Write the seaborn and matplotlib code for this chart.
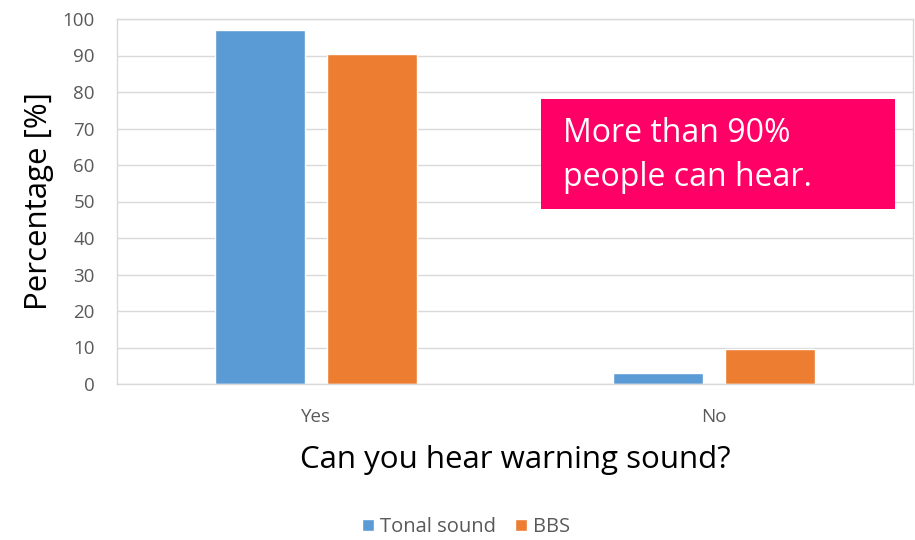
import matplotlib
matplotlib.use("Agg")
import matplotlib.pyplot as plt
import seaborn as sns
import pandas as pd
from matplotlib.patches import Rectangle

categories = ["Yes", "No"]
series = ["Tonal sound", "BBS"]
tonal_values = [97, 3]
bbs_values = [90.5, 9.5]
y_ticks = [0, 10, 20, 30, 40, 50, 60, 70, 80, 90, 100]

df = pd.DataFrame({
    "answer": categories * 2,
    "series": [series[0]] * 2 + [series[1]] * 2,
    "value": tonal_values + bbs_values,
})

sns.set_theme(style="white")
plt.rcParams['font.family'] = ['Open Sans', 'DejaVu Sans']

fig = plt.figure(figsize=(9.15, 5.4), dpi=100)
ax = fig.add_axes([117/915, 1-384/540, (913-117)/915, (384-19)/540])

palette = {"Tonal sound": "#5B9BD5", "BBS": "#ED7D31"}
sns.barplot(data=df, x="answer", y="value", hue="series", order=categories,
            hue_order=series, palette=palette, width=0.566, gap=0.2,
            saturation=1, ax=ax, legend=True)

ax.set_ylim(0, 100)
ax.set_xlim(-0.5, 1.5)
ax.set_yticks(y_ticks)
ax.yaxis.grid(True, color="#D9D9D9", linewidth=1)
ax.set_axisbelow(True)
for s in ax.spines.values():
    s.set_color("#D9D9D9")
    s.set_linewidth(1)
ax.tick_params(axis="both", length=0, colors="#595959", labelsize=13.5)
ax.tick_params(axis="y", pad=16)
ax.tick_params(axis="x", pad=17)

ax.set_ylabel("Percentage [%]", fontsize=22.5, color="black", labelpad=6)
ax.set_xlabel("Can you hear warning sound?", fontsize=22.5, color="black", labelpad=14)

leg = ax.legend(loc="center", bbox_to_anchor=(466/915, 1-527/540),
                bbox_transform=fig.transFigure, ncol=2, frameon=False,
                fontsize=14.5, handlelength=0.6, handleheight=0.6,
                handletextpad=0.3, columnspacing=0.9)
for t in leg.get_texts():
    t.set_color("#595959")

fig.patches.append(Rectangle((541/915, 1-209/540), (895-541)/915, (209-99)/540,
                             transform=fig.transFigure, facecolor="#FF0066",
                             edgecolor="none", zorder=5))
fig.text(563/915, 1-134/540, "More than 90%", color="white", fontsize=23,
         va="center", ha="left", zorder=6)
fig.text(563/915, 1-178/540, "people can hear.", color="white", fontsize=23,
         va="center", ha="left", zorder=6)

fig.savefig("out.png", dpi=100)
